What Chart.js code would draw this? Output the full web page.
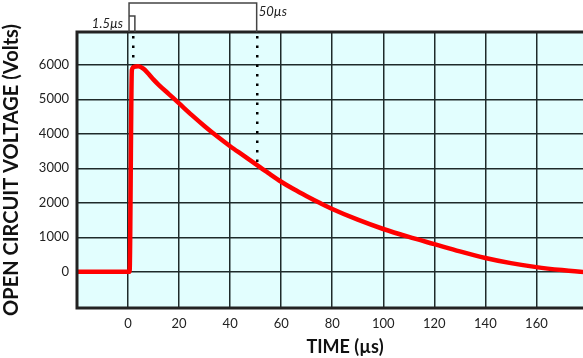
<!DOCTYPE html>
<html>
<head>
<meta charset="utf-8">
<script src="https://cdn.jsdelivr.net/npm/chart.js@4.4.0/dist/chart.umd.min.js"></script>
<style>
html,body{margin:0;padding:0;background:#fff;overflow:hidden;width:583px;height:358px;}
#wrap{position:absolute;left:0;top:0;width:613px;height:358px;}
</style>
</head>
<body>
<div id="wrap"><canvas id="c" width="613" height="358"></canvas></div>
<script>
// Time (µs) and open-circuit voltage (V)
const timeUs = [-20, 0.6, 1.5, 2.5, 4, 6, 8, 10, 12, 16, 20, 25, 30, 35, 40, 45, 50, 55, 60, 65, 70, 75, 80, 90, 100, 110, 120, 130, 140, 150, 160, 170, 179, 190];
const voltage = [0, 0, 5850, 5945, 5955, 5890, 5740, 5570, 5420, 5150, 4880, 4540, 4220, 3920, 3640, 3380, 3120, 2860, 2610, 2390, 2190, 2000, 1820, 1510, 1240, 1010, 800, 590, 400, 250, 135, 50, -10, -50];
const xTicks = [0, 20, 40, 60, 80, 100, 120, 140, 160];
const yTicks = [0, 1000, 2000, 3000, 4000, 5000, 6000];
const markerTimes = [1.5, 50];         // rise time and 50 µs marker
const markerLabels = ['1.5\u00b5s', '50\u00b5s'];
const markerDotTo = [6000, 3150];      // voltage where each dotted line ends

const points = timeUs.map((t, i) => ({x: t, y: voltage[i]}));

const annot = {
  id: 'annot',
  beforeDatasetsDraw(chart) {
    const {ctx, chartArea: a, scales: {x, y}} = chart;
    ctx.save();
    ctx.fillStyle = '#000';
    markerTimes.forEach((t, i) => {
      const px = Math.round(x.getPixelForValue(t)) + 1;
      const yEnd = y.getPixelForValue(markerDotTo[i]);
      for (let py = a.top + 4; py < yEnd; py += 9.5) {
        ctx.fillRect(px - 1, py, 2.5, 2.5);
      }
    });
    ctx.restore();
  },
  afterDatasetsDraw(chart) {
    const {ctx, chartArea: a, scales: {x}} = chart;
    ctx.save();
    ctx.strokeStyle = '#222';
    ctx.lineWidth = 3;
    ctx.strokeRect(a.left, a.top, a.right - a.left, a.bottom - a.top);
    // brackets above the plot
    const x0 = x.getPixelForValue(0) + 1;
    const x1 = x.getPixelForValue(markerTimes[0]) + 3;
    const x2 = x.getPixelForValue(markerTimes[1]) + 1;
    ctx.strokeStyle = '#444';
    ctx.lineWidth = 1.5;
    ctx.beginPath();
    ctx.moveTo(x0, a.top); ctx.lineTo(x0, 3); ctx.lineTo(x2, 3); ctx.lineTo(x2, a.top);
    ctx.moveTo(x0, a.top); ctx.lineTo(x0, 16); ctx.lineTo(x1, 16); ctx.lineTo(x1, a.top);
    ctx.stroke();
    ctx.fillStyle = '#222';
    ctx.font = 'italic 13px Lato';
    ctx.textBaseline = 'middle';
    ctx.textAlign = 'right';
    ctx.fillText(markerLabels[0], x0 - 6, 24);
    ctx.textAlign = 'left';
    ctx.fillText(markerLabels[1], x2 + 2, 12);
    ctx.restore();
  }
};

new Chart(document.getElementById('c'), {
  type: 'line',
  data: {
    datasets: [{
      data: points,
      borderColor: '#ff0000',
      borderWidth: 4.5,
      pointRadius: 0,
      cubicInterpolationMode: 'monotone',
      fill: false,
      clip: 0
    }]
  },
  options: {
    responsive: false,
    animation: false,
    layout: {padding: {top: 32, right: 0, left: 0, bottom: 0}},
    plugins: {legend: {display: false}, tooltip: {enabled: false}},
    scales: {
      x: {
        type: 'linear',
        min: -20, max: 190,
        afterBuildTicks(s) { s.ticks = xTicks.map(v => ({value: v})); },
        afterFit(s) { s.height = 50; },
        grid: {color: '#1e2a2a', lineWidth: 1.5, drawTicks: false},
        border: {display: false},
        ticks: {color: '#222', font: {family: 'Lato', size: 13}, padding: 8, maxRotation: 0, callback: v => String(v)},
        title: {display: true, text: 'TIME (\u00b5s)', color: '#111', font: {family: 'Lato', size: 18, weight: 'bold'}, padding: {top: 2, bottom: 0}}
      },
      y: {
        min: -1050, max: 6950,
        afterBuildTicks(s) { s.ticks = yTicks.map(v => ({value: v})); },
        afterFit(s) { s.width = 77; },
        grid: {color: '#1e2a2a', lineWidth: 1.5, drawTicks: false},
        border: {display: false},
        ticks: {color: '#222', font: {family: 'Lato', size: 13}, padding: 8, callback: v => String(v)},
        title: {display: true, text: 'OPEN CIRCUIT VOLTAGE (Volts)', color: '#111', font: {family: 'Lato', size: 20, weight: 'bold'}, padding: {top: 0, bottom: 1}}
      }
    }
  },
  plugins: [{
    id: 'bg',
    beforeDraw(chart) {
      const {ctx, chartArea: a} = chart;
      ctx.save();
      ctx.fillStyle = '#e2fefe';
      ctx.fillRect(a.left, a.top, a.right - a.left, a.bottom - a.top);
      ctx.restore();
    }
  }, annot]
});
</script>
</body>
</html>
